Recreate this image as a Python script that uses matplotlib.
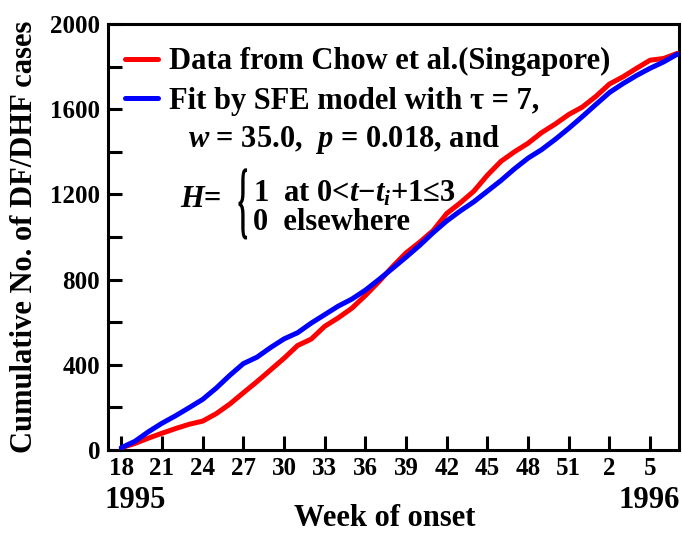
import matplotlib
matplotlib.use("Agg")
import matplotlib.pyplot as plt
import numpy as np
from matplotlib.textpath import TextPath
from matplotlib.patches import PathPatch
from matplotlib.font_manager import FontProperties
from matplotlib.transforms import Affine2D

plt.rcParams['font.family'] = ['Liberation Serif', 'DejaVu Serif']
plt.rcParams['font.weight'] = 'bold'
plt.rcParams['mathtext.fontset'] = 'custom'
plt.rcParams['mathtext.rm'] = 'Liberation Serif:bold'
plt.rcParams['mathtext.it'] = 'Liberation Serif:bold:italic'
plt.rcParams['mathtext.bf'] = 'Liberation Serif:bold'

# week index 0 = week 18 of 1995 ... 41 = week 7 of 1996
weeks = np.arange(42)
red_data = [10, 30, 55, 78, 100, 120, 135, 170, 215, 268, 320, 375, 430, 490,
            520, 580, 620, 665, 725, 790, 860, 925, 975, 1030, 1110, 1160, 1215,
            1290, 1355, 1400, 1440, 1490, 1530, 1575, 1610, 1660, 1718, 1752,
            1792, 1830, 1838, 1862]
blue_fit = [10, 40, 85, 125, 160, 198, 237, 290, 350, 405, 435, 480, 521, 550,
            595, 635, 675, 708, 750, 800, 852, 905, 960, 1020, 1075, 1122, 1165,
            1215, 1265, 1320, 1370, 1410, 1458, 1510, 1565, 1622, 1678, 1720,
            1758, 1792, 1822, 1858]
xtick_pos = [0, 3, 6, 9, 12, 15, 18, 21, 24, 27, 30, 33, 36, 39]
xtick_labels = ['18', '21', '24', '27', '30', '33', '36', '39', '42', '45',
                '48', '51', '2', '5']
ytick_major = [0, 400, 800, 1200, 1600, 2000]

fig = plt.figure(figsize=(6.82, 5.33), dpi=100)
ax = fig.add_axes([0.158, 0.156, 0.837, 0.799])

ax.plot(weeks, red_data, color='#ff0000', lw=3.6, solid_capstyle='round',
        label='Data from Chow et al.(Singapore)', zorder=3)
ax.plot(weeks, blue_fit, color='#0000ff', lw=3.6, solid_capstyle='round',
        label='Fit by SFE model with τ = 7,', zorder=3)

ax.set_xlim(-1, 41.1)
ax.set_ylim(0, 2000)
ax.set_xticks(xtick_pos)
ax.set_xticklabels(xtick_labels)
ax.set_yticks(ytick_major)
ax.set_yticks(np.arange(200, 2000, 400), minor=True)
ax.tick_params(axis='both', which='both', direction='in', length=10, width=2.2,
               labelsize=18, pad=5)
ax.tick_params(axis='y', pad=5.5)
for s in ax.spines.values():
    s.set_linewidth(2.2)

ax.set_xlabel('Week of onset', fontsize=22, fontweight='bold')
ax.xaxis.set_label_coords(0.485, -0.128)
ax.set_ylabel('Cumulative No. of DF/DHF cases', fontsize=22, fontweight='bold')
ax.yaxis.set_label_coords(-0.121, 0.5)

ax.text(-0.005, -0.12, '1995', transform=ax.transAxes, ha='left',
        va='center', fontsize=22)
ax.text(1.003, -0.12, '1996', transform=ax.transAxes, ha='right',
        va='center', fontsize=22)

leg = ax.legend(loc='upper left', bbox_to_anchor=(0.03, 0.945), frameon=False,
                fontsize=22, handlelength=1.1, handletextpad=0.33,
                labelspacing=0.35, borderaxespad=0.0, borderpad=0.0)
for t in leg.get_texts():
    t.set_fontweight('bold')

ax.text(0.140, 0.728, r'$w$ = 35.0,  $p$ = 0.018, and', transform=ax.transAxes,
        ha='left', va='center', fontsize=22)
ax.text(0.126, 0.589, r'$H$=', transform=ax.transAxes, ha='left',
        va='center', fontsize=22)

# tall narrow brace built from the "{" glyph
bp = TextPath((0, 0), '{', size=1, prop=FontProperties(family='Liberation Serif'))
ext = bp.get_extents()
b_left, b_bottom, b_w, b_h = 0.229, 0.494, 0.015, 0.167
btr = (Affine2D().translate(-ext.x0, -ext.y0)
       .scale(b_w / ext.width, b_h / ext.height)
       .translate(b_left, b_bottom)) + ax.transAxes
ax.add_patch(PathPatch(bp, transform=btr, facecolor='black', edgecolor='none',
                       clip_on=False))

ax.text(0.254, 0.601, r'1  at 0<$t$−$t_i$+1≤3', transform=ax.transAxes,
        ha='left', va='center', fontsize=22)
ax.text(0.254, 0.535, '0  elsewhere', transform=ax.transAxes, ha='left',
        va='center', fontsize=22)

fig.savefig('out.png', dpi=100)
